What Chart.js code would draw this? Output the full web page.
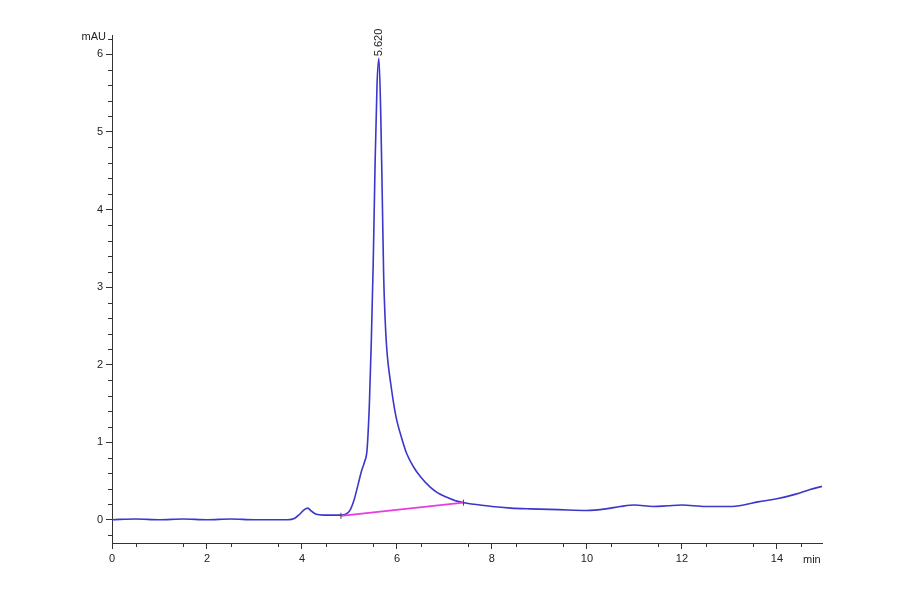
<!DOCTYPE html>
<html>
<head>
<meta charset="utf-8">
<script src="https://cdn.jsdelivr.net/npm/chart.js@4.4.1/dist/chart.umd.min.js"></script>
<style>
  body { margin: 0; background: #fff; }
  canvas { display: block; }
</style>
</head>
<body>
<canvas id="chroma" width="900" height="594"></canvas>
<script>
// retention time (min) and absorbance (mAU)
const times = [0, 0.5, 1.0, 1.5, 2.0, 2.5, 3.0, 3.4, 3.7, 3.85, 3.95, 4.05, 4.12, 4.2, 4.3, 4.45, 4.65, 4.82,
  4.92, 5.01, 5.1, 5.18, 5.26, 5.32, 5.37, 5.42, 5.46, 5.5, 5.54, 5.58, 5.62, 5.66, 5.69, 5.72, 5.75, 5.78,
  5.82, 5.87, 5.93, 5.99, 6.1, 6.2, 6.35, 6.5, 6.7, 6.85, 7.05, 7.26, 7.5, 7.75, 8.0, 8.4, 8.8, 9.4, 10.0,
  10.4, 10.7, 11.0, 11.4, 11.7, 12.0, 12.5, 13.0, 13.3, 13.6, 14.0, 14.4, 14.7, 14.95];
const signal = [0.0, 0.01, 0.0, 0.01, 0.0, 0.01, 0.0, 0.0, 0.0, 0.02, 0.07, 0.13, 0.15, 0.11, 0.07, 0.06, 0.06, 0.06,
  0.07, 0.12, 0.26, 0.45, 0.64, 0.75, 0.9, 1.5, 2.3, 3.3, 4.6, 5.6, 5.95, 5.2, 4.2, 3.15, 2.6, 2.25,
  1.98, 1.75, 1.5, 1.3, 1.05, 0.86, 0.68, 0.55, 0.42, 0.35, 0.29, 0.24, 0.21, 0.19, 0.17, 0.15, 0.14, 0.13, 0.12,
  0.14, 0.17, 0.19, 0.17, 0.18, 0.19, 0.17, 0.17, 0.19, 0.23, 0.27, 0.33, 0.39, 0.43];
// integration baseline under the main peak
const baseTimes = [4.82, 7.4];
const baseValues = [0.05, 0.22];
const peakTime = 5.62;
const peakValue = 5.95;
const peakLabel = '5.620';
const xTicks = [0, 2, 4, 6, 8, 10, 12, 14];
const yTicks = [0, 1, 2, 3, 4, 5, 6];

const axisColor = '#333';
const textColor = '#222';
const font = { family: 'Liberation Sans, Arial, sans-serif', size: 11 };

const extras = {
  id: 'extras',
  afterDraw(chart) {
    const c = chart.ctx;
    const x = chart.scales.x;
    const y = chart.scales.y;
    c.save();
    c.strokeStyle = axisColor;
    c.lineWidth = 1;
    // minor ticks
    c.beginPath();
    for (let t = 0.5; t <= 14.9; t += 1) {
      const px = Math.round(x.getPixelForValue(t)) + 0.5;
      c.moveTo(px, y.bottom);
      c.lineTo(px, y.bottom + 4);
    }
    for (let v = -0.2; v <= 6.21; v += 0.2) {
      if (Math.abs(v - Math.round(v)) < 0.01) continue;
      const py = Math.round(y.getPixelForValue(v)) + 0.5;
      c.moveTo(x.left, py);
      c.lineTo(x.left - 4, py);
    }
    c.stroke();
    // units
    c.fillStyle = textColor;
    c.font = '11px Liberation Sans, Arial, sans-serif';
    c.textAlign = 'right';
    c.textBaseline = 'middle';
    c.fillText('mAU', x.left - 6, y.getPixelForValue(6.22));
    c.textAlign = 'left';
    c.fillText('min', x.getPixelForValue(14.55), y.bottom + 17);
    // peak label
    c.translate(x.getPixelForValue(peakTime), y.getPixelForValue(peakValue) - 2);
    c.rotate(-Math.PI / 2);
    c.textAlign = 'left';
    c.fillText(peakLabel, 0, 0);
    c.restore();
  }
};

new Chart(document.getElementById('chroma'), {
  type: 'line',
  data: {
    datasets: [
      {
        label: 'baseline',
        data: baseTimes.map((t, i) => ({ x: t, y: baseValues[i] })),
        borderColor: '#e83ce0',
        borderWidth: 1.6,
        pointStyle: 'line',
        rotation: 90,
        pointRadius: 3,
        pointBorderColor: '#444',
        pointBorderWidth: 1,
        order: 0
      },
      {
        label: 'signal',
        data: times.map((t, i) => ({ x: t, y: signal[i] })),
        borderColor: '#3b36cc',
        borderWidth: 1.6,
        pointRadius: 0,
        cubicInterpolationMode: 'monotone',
        order: 1
      }
    ]
  },
  options: {
    responsive: false,
    animation: false,
    layout: { padding: { top: 35, right: 78, bottom: 21, left: 0 } },
    plugins: { legend: { display: false }, tooltip: { enabled: false } },
    scales: {
      x: {
        type: 'linear',
        min: 0,
        max: 14.95,
        afterBuildTicks: (axis) => { axis.ticks = xTicks.map(v => ({ value: v })); },
        afterFit: (axis) => { axis.height = 30; },
        grid: { drawOnChartArea: false, tickLength: 6, color: axisColor },
        border: { color: axisColor, width: 1 },
        ticks: { color: textColor, font, padding: 3, maxRotation: 0 }
      },
      y: {
        min: -0.3,
        max: 6.25,
        afterBuildTicks: (axis) => { axis.ticks = yTicks.map(v => ({ value: v })); },
        afterFit: (axis) => { axis.width = 112; },
        grid: { drawOnChartArea: false, tickLength: 6, color: axisColor },
        border: { color: axisColor, width: 1 },
        ticks: { color: textColor, font, padding: 3 }
      }
    }
  },
  plugins: [extras]
});
</script>
</body>
</html>
